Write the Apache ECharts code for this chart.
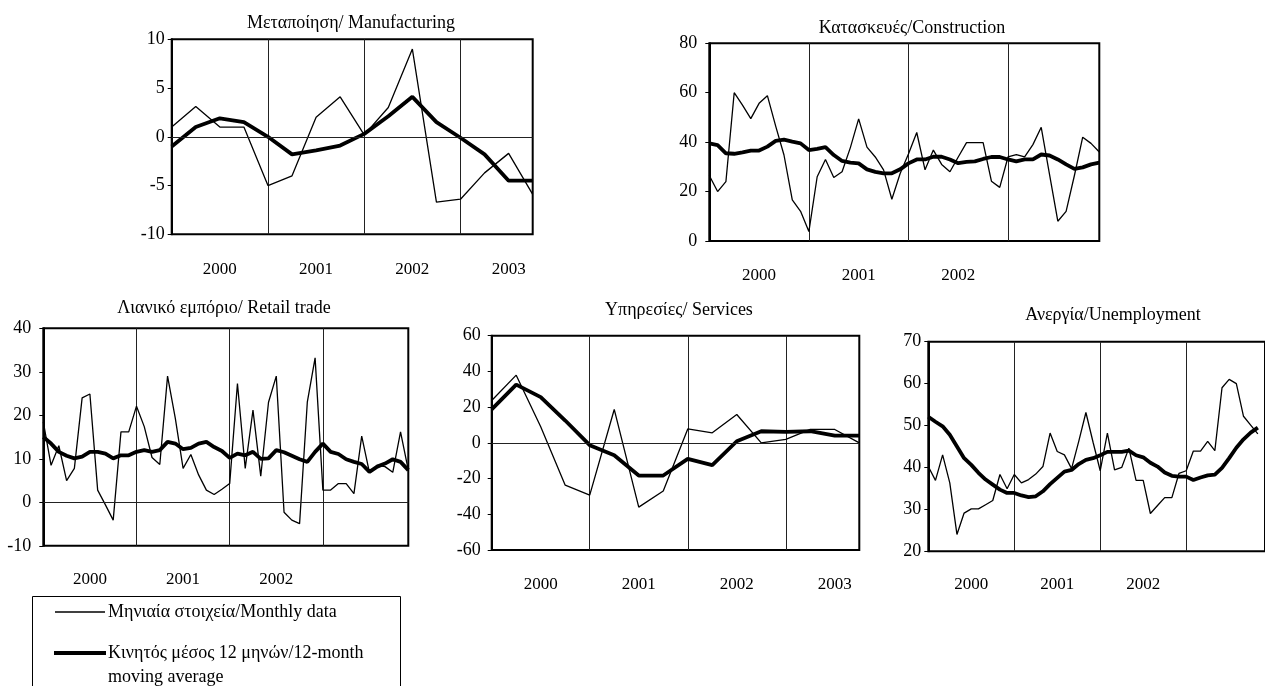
<!DOCTYPE html>
<html>
<head>
<meta charset="utf-8">
<script src="https://cdn.jsdelivr.net/npm/echarts@6/dist/echarts.min.js"></script>
<style>
  html, body { margin: 0; padding: 0; background: #fff; }
  #chart { width: 1265px; height: 686px; }
</style>
</head>
<body>
<div id="chart"></div>
<script>
// Time axis: quarterly panels and monthly panels, 2000–2003
const years = ['2000', '2001', '2002', '2003'];
const quarters = [];
years.forEach(y => ['Q1', 'Q2', 'Q3', 'Q4'].forEach(q => quarters.push(y + ' ' + q)));
const months = [];
years.forEach(y => { for (let m = 1; m <= 12; m++) months.push(y + '-' + String(m).padStart(2, '0')); });

// Year labels printed under each panel
const yearLabelsAll = ['2000', '2001', '2002', '2003'];
const yearLabelsTo2002 = ['2000', '2001', '2002'];

// Manufacturing (quarterly)
const manufacturingData = [1.0, 3.1, 1.0, 1.0, -5.0, -4.0, 2.0, 4.1, 0.2, 3.0, 9.0, -6.7, -6.4, -3.7, -1.7, -5.9];
const manufacturingAvg  = [-1.0, 1.0, 1.9, 1.5, 0.0, -1.8, -1.4, -0.9, 0.3, 2.1, 4.1, 1.5, -0.1, -1.8, -4.5, -4.5];

// Construction (monthly)
const constructionData = [26.5, 20, 24, 60, 55, 49.5, 55.7, 58.8, 46.5, 34.8, 16.6, 12, 3.8, 26, 33, 25.7, 28, 37.8, 49.4, 38, 34, 28.8, 16.9, 27.3,
                          35.2, 43.9, 28.8, 36.8, 31, 28, 34, 39.8, 39.8, 39.8, 24.2, 21.7, 34, 35, 34, 39, 46, 27, 8, 12, 26.5, 42, 39.5, 36];
const constructionAvg  = [39.5, 38.8, 35.5, 35.3, 35.9, 36.6, 36.6, 38.2, 40.5, 41, 40.2, 39.5, 36.8, 37.3, 38, 34.8, 32.4, 31.7, 31.4, 29, 28, 27.4, 27.4, 29,
                          31.4, 33, 33, 34.1, 34.1, 33, 31.5, 32, 32.2, 33.2, 34, 34, 33, 32.2, 33, 33, 35, 34.6, 33, 31, 29.2, 29.8, 31, 31.7];

// Retail trade (monthly)
const retailData = [18.5, 8.5, 13, 5, 7.8, 24, 24.9, 2.8, -0.6, -4.1, 16.2, 16.2, 22.1, 17.4, 10.3, 8.7, 29, 19.3, 7.8, 11, 6.3, 2.8, 1.8, 3,
                    4.3, 27.3, 7.8, 21.2, 6, 23, 29, -2.3, -4.1, -4.9, 23.1, 33.2, 2.8, 2.8, 4.3, 4.3, 2, 15.2, 6.8, 8.5, 8.2, 6.9, 16.2, 7.4];
const retailAvg  = [15, 13.5, 11.6, 10.7, 10.1, 10.5, 11.6, 11.6, 11.2, 10.1, 10.8, 10.8, 11.6, 12, 11.6, 12, 13.9, 13.5, 12.2, 12.5, 13.5, 13.9, 12.7, 11.8,
                    10.2, 11.2, 10.8, 11.6, 10, 10.1, 12, 11.5, 10.7, 9.9, 9.3, 11.6, 13.5, 11.6, 11.1, 9.9, 9.3, 8.8, 7, 8.2, 8.9, 9.9, 9.3, 7.4];

// Services (quarterly)
const servicesData = [23.7, 37.9, 9, -23.7, -29.3, 18.7, -36, -27, 7.8, 5.6, 15.9, 0, 1.9, 7.5, 7.5, 0];
const servicesAvg  = [18.7, 32.6, 25.6, 12.5, -1.3, -6.9, -18.3, -18.3, -9, -12.5, 0.9, 6.5, 6.2, 6.5, 4.1, 4.1];

// Unemployment (monthly)
const unemploymentData = [40.2, 36.9, 43, 36.3, 24, 29.1, 30.1, 30.1, 31.1, 32.1, 38.3, 34.9, 38.3, 36.3, 37.1, 38.4, 40.2, 48.2, 43.8, 43, 39.7, 46.2, 53.1, 46,
                          39.2, 48.2, 39.4, 40, 44.6, 36.9, 36.9, 29, 30.9, 32.8, 32.8, 38.6, 39.2, 43.9, 43.9, 46.2, 44, 59, 61, 60, 52.2, 50.1, 48];
const unemploymentAvg  = [52.1, 50.9, 49.8, 47.8, 45, 42.2, 40.6, 38.7, 37.1, 35.9, 34.7, 33.9, 33.9, 33.3, 32.9, 33.1, 34.3, 36, 37.5, 39, 39.4, 40.8, 41.8, 42.2,
                          42.9, 43.7, 43.7, 43.7, 44, 42.9, 42.4, 41.1, 40.2, 38.8, 38, 37.8, 37.8, 37, 37.6, 38.1, 38.3, 39.9, 42.2, 44.7, 46.7, 48.3, 49.5];

const legendMonthly = 'Μηνιαία στοιχεία/Monthly data';
const legendAverage = 'Κινητός μέσος 12 μηνών/12-month';
const legendAverage2 = 'moving average';

const FAMILY = 'Liberation Serif';
const FONT = 'Liberation Serif, Times New Roman, serif';
const INK = '#000';

const grids = [], xAxes = [], yAxes = [], series = [], texts = [];

const tickText = { color: INK, fontFamily: FAMILY, fontWeight: 'normal', fontStyle: 'normal' };

function addPanel(p) {
  const i = grids.length;
  const perYear = p.cats.length / 4;
  grids.push({
    left: p.box[0], top: p.box[1], width: p.box[2], height: p.box[3],
    show: true, borderColor: INK, borderWidth: 2, backgroundColor: 'transparent'
  });
  xAxes.push({
    type: 'category', gridIndex: i, data: p.cats, boundaryGap: false,
    axisLine: { show: false }, axisTick: { show: false },
    axisLabel: Object.assign({
      interval: (idx) => idx % perYear === perYear / 2 && p.years.includes(p.cats[idx].slice(0, 4)),
      formatter: (v) => v.slice(0, 4),
      margin: p.yearGap, fontSize: 17
    }, tickText),
    splitLine: {
      show: true,
      interval: (idx) => idx > 0 && idx % perYear === 0,
      lineStyle: { color: '#222', width: 1 }
    }
  });
  yAxes.push({
    type: 'value', gridIndex: i, min: p.y[0], max: p.y[1], interval: p.y[2],
    axisLine: { show: true, onZero: false, lineStyle: { color: INK, width: 2 } },
    axisTick: { show: true, length: 4, lineStyle: { color: INK, width: 1 } },
    axisLabel: Object.assign({ margin: p.labelGap, fontSize: 18 }, tickText),
    splitLine: { show: false }
  });
  const thin = {
    type: 'line', name: legendMonthly, xAxisIndex: i, yAxisIndex: i, data: p.monthly,
    symbol: 'none', lineStyle: { color: INK, width: 1.3 }, silent: true, z: 3
  };
  if (p.zeroLine) {
    thin.markLine = {
      silent: true, symbol: 'none', label: { show: false },
      lineStyle: { color: '#222', width: 1, type: 'solid' },
      data: [{ yAxis: 0 }]
    };
  }
  series.push(thin);
  series.push({
    type: 'line', name: legendAverage, xAxisIndex: i, yAxisIndex: i, data: p.average,
    symbol: 'none', lineStyle: { color: INK, width: 3.8 }, silent: true, z: 4
  });
  texts.push({
    type: 'text', x: p.title[1], y: p.title[2],
    style: { text: p.title[0], fill: INK, font: '18px ' + FONT, textAlign: 'center', textVerticalAlign: 'middle' }
  });
}

addPanel({
  title: ['Μεταποίηση/ Manufacturing', 351, 23], box: [171.7, 39.3, 361, 195],
  cats: quarters, years: yearLabelsAll, y: [-10, 10, 5], labelGap: 7, yearGap: 27, zeroLine: true,
  monthly: manufacturingData, average: manufacturingAvg
});
addPanel({
  title: ['Κατασκευές/Construction', 912, 28], box: [709.3, 43.3, 390, 197.7],
  cats: months, years: yearLabelsTo2002, y: [0, 80, 20], labelGap: 12, yearGap: 26, zeroLine: false,
  monthly: constructionData, average: constructionAvg
});
addPanel({
  title: ['Λιανικό εμπόριο/ Retail trade', 224, 308], box: [43.3, 328.3, 365, 217.5],
  cats: months, years: yearLabelsTo2002, y: [-10, 40, 10], labelGap: 12, yearGap: 25, zeroLine: true,
  monthly: retailData, average: retailAvg
});
addPanel({
  title: ['Υπηρεσίες/ Services', 679, 310], box: [491.7, 335.7, 367.6, 214.3],
  cats: quarters, years: yearLabelsAll, y: [-60, 60, 20], labelGap: 11, yearGap: 26, zeroLine: true,
  monthly: servicesData, average: servicesAvg
});
addPanel({
  title: ['Ανεργία/Unemployment', 1113, 315], box: [928.3, 341.7, 347.3, 209.5],
  cats: months, years: yearLabelsTo2002, y: [20, 70, 10], labelGap: 7, yearGap: 25, zeroLine: false,
  monthly: unemploymentData, average: unemploymentAvg
});

// Key box under the retail panel
const key = [
  { type: 'rect', shape: { x: 32.5, y: 596.5, width: 368, height: 130 },
    style: { fill: 'none', stroke: INK, lineWidth: 1 } },
  { type: 'line', shape: { x1: 55, y1: 612, x2: 105, y2: 612 }, style: { stroke: INK, lineWidth: 1.3 } },
  { type: 'line', shape: { x1: 54, y1: 653, x2: 106, y2: 653 }, style: { stroke: INK, lineWidth: 3.8 } },
  { type: 'text', x: 108, y: 612, style: { text: legendMonthly, fill: INK, font: '18px ' + FONT, textVerticalAlign: 'middle' } },
  { type: 'text', x: 108, y: 653, style: { text: legendAverage, fill: INK, font: '18px ' + FONT, textVerticalAlign: 'middle' } },
  { type: 'text', x: 108, y: 677, style: { text: legendAverage2, fill: INK, font: '18px ' + FONT, textVerticalAlign: 'middle' } }
];

const chart = echarts.init(document.getElementById('chart'), null, { renderer: 'canvas' });
chart.setOption({
  backgroundColor: '#fff',
  animation: false,
  textStyle: { fontFamily: FAMILY },
  grid: grids,
  xAxis: xAxes,
  yAxis: yAxes,
  series: series,
  graphic: texts.concat(key)
});
</script>
</body>
</html>
